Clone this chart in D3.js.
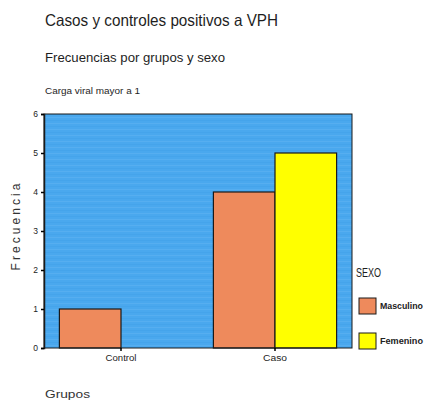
<!DOCTYPE html>
<html>
<head>
<meta charset="utf-8">
<script src="https://cdn.jsdelivr.net/npm/d3@7"></script>
<style>
  html, body { margin: 0; padding: 0; background: #ffffff; }
  svg { display: block; font-family: "Liberation Sans", Arial, sans-serif; }
</style>
</head>
<body>
<svg id="chart" width="426" height="402"></svg>
<script>
// Grouped bar chart: frequency by group and sex
const groups = ["Control", "Caso"];
const sexes = ["Masculino", "Femenino"];
const masculino = [1, 4];
const femenino = [0, 5];
const yTicks = [0, 1, 2, 3, 4, 5, 6];
const sexColors = ["#ee8a5c", "#ffff00"];

const svg = d3.select("#chart");
const margin = { left: 44, right: 74, top: 114, bottom: 54 };
const W = 426, H = 402;
const plotW = W - margin.left - margin.right;
const plotH = H - margin.top - margin.bottom;

const x0 = d3.scaleBand().domain(groups).range([0, plotW]).paddingInner(0.2).paddingOuter(0.1);
const x1 = d3.scaleBand().domain(sexes).range([0, x0.bandwidth()]);
const y = d3.scaleLinear().domain([0, 6]).range([plotH, 0]);
const color = d3.scaleOrdinal().domain(sexes).range(sexColors);

// Condensed text helper
function label(sel, x, yPos, size, width, str) {
  return sel.append("text").attr("x", x).attr("y", yPos)
    .attr("font-size", size).attr("fill", "#1e1e1e")
    .attr("textLength", width).attr("lengthAdjust", "spacingAndGlyphs")
    .text(str);
}

// Titles
label(svg, 45, 26, 16.5, 233, "Casos y controles positivos a VPH");
label(svg, 45, 62, 13.5, 180, "Frecuencias por grupos y sexo");
label(svg, 45, 94, 9.5, 95, "Carga viral mayor a 1");

const g = svg.append("g").attr("transform", `translate(${margin.left},${margin.top})`);

// Plot background with faint horizontal streaks
g.append("rect").attr("width", plotW).attr("height", plotH).attr("fill", "#4aa8ee");
const streaks = d3.range(0, plotH, 3);
g.selectAll("line.streak").data(streaks).join("line")
  .attr("class", "streak")
  .attr("x1", 0).attr("x2", plotW)
  .attr("y1", d => d + 0.5).attr("y2", d => d + 0.5)
  .attr("stroke", (d, i) => i % 2 ? "#56aef0" : "#45a4eb")
  .attr("stroke-width", 1);

// Bars
const rows = groups.map((grp, i) => ({ grp, vals: [masculino[i], femenino[i]] }));
const gg = g.selectAll("g.grp").data(rows).join("g")
  .attr("transform", d => `translate(${x0(d.grp)},0)`);
gg.selectAll("rect").data(d => d.vals.map((v, j) => ({ sex: sexes[j], v })).filter(d => d.v > 0))
  .join("rect")
  .attr("x", d => x1(d.sex))
  .attr("y", d => y(d.v))
  .attr("width", x1.bandwidth())
  .attr("height", d => plotH - y(d.v))
  .attr("fill", d => color(d.sex))
  .attr("stroke", "#1a1a1a").attr("stroke-width", 1.2);

// Plot frame
g.append("rect").attr("width", plotW).attr("height", plotH)
  .attr("fill", "none").attr("stroke", "#1a1a1a").attr("stroke-width", 1);

// Y axis
const yAxis = d3.axisLeft(y).tickValues(yTicks).tickFormat(d3.format("d")).tickSize(3).tickPadding(3);
const ya = g.append("g").call(yAxis);
ya.select(".domain").attr("stroke", "#1a1a1a").attr("stroke-width", 1.5);
ya.selectAll(".tick line").attr("stroke-width", 1.5);
ya.selectAll("text").attr("font-size", 8.5).attr("fill", "#222");

// X axis
const xAxis = d3.axisBottom(x0).tickSize(3).tickPadding(4);
const xa = g.append("g").attr("transform", `translate(0,${plotH})`).call(xAxis);
xa.select(".domain").remove();
xa.selectAll(".tick line").attr("stroke-width", 1.5);
xa.selectAll("text").attr("font-size", 8.5).attr("fill", "#222")
  .attr("textLength", d => d === "Control" ? 31 : 24).attr("lengthAdjust", "spacingAndGlyphs");

// Axis titles
svg.append("text")
  .attr("transform", `translate(20,${margin.top + plotH / 2 - 4}) rotate(-90)`)
  .attr("text-anchor", "middle").attr("font-size", 12)
  .attr("textLength", 87).attr("lengthAdjust", "spacing")
  .attr("fill", "#333").text("Frecuencia");
label(svg, 45, 398, 11, 45, "Grupos").attr("fill", "#333");

// Legend
const lg = svg.append("g").attr("transform", "translate(356,0)");
label(lg, 0, 277, 13, 25, "SEXO");
const items = lg.selectAll("g.item").data(sexes).join("g")
  .attr("transform", (d, i) => `translate(3,${298 + i * 35})`);
items.append("rect").attr("width", 17).attr("height", 16)
  .attr("fill", d => color(d)).attr("stroke", "#1a1a1a").attr("stroke-width", 1);
items.append("text").attr("x", 21).attr("y", 11).attr("font-size", 9)
  .attr("font-weight", "bold").attr("fill", "#222")
  .attr("textLength", d => d === "Masculino" ? 43 : 43).attr("lengthAdjust", "spacingAndGlyphs")
  .text(d => d);
</script>
</body>
</html>
